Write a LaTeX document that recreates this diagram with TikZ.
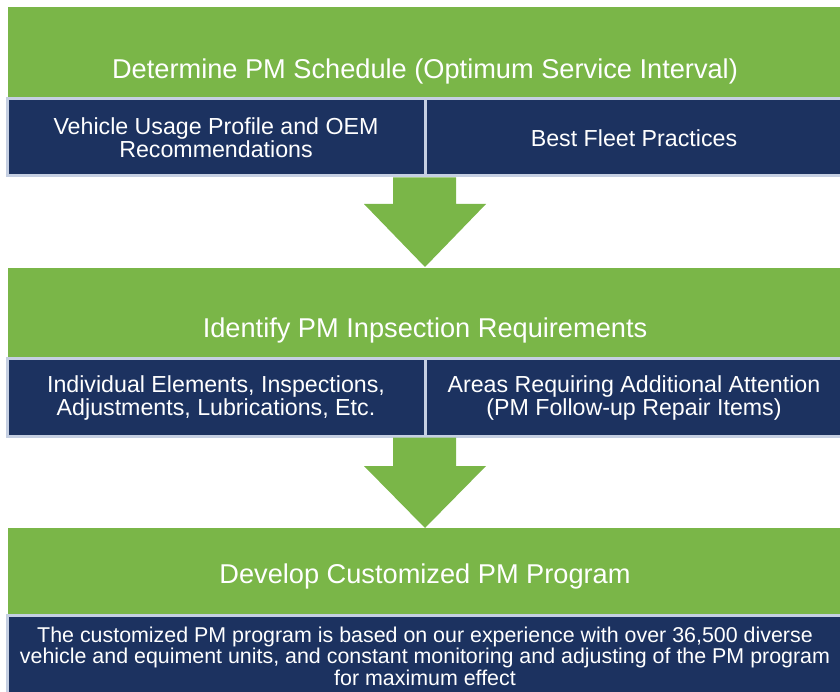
\documentclass[tikz,border=0pt]{standalone}
\usepackage{fontspec}
\setmainfont{Liberation Sans}
\definecolor{pmgreen}{HTML}{7AB648}
\definecolor{pmblue}{HTML}{1C3260}
\definecolor{pmedge}{HTML}{C5CFE2}
\tikzset{
  band/.style={fill=pmgreen},
  cell/.style={fill=pmblue, draw=pmedge, line width=3pt},
  blockarrow/.style={fill=pmgreen},
  title/.style={text=white, font=\fontsize{27.2}{30}\selectfont, align=center},
  celltext/.style={text=white, font=\fontsize{23.2}{23}\selectfont, align=center},
  smalltext/.style={text=white, font=\fontsize{21.4}{21.5}\selectfont, align=center}
}
\begin{document}
\begin{tikzpicture}[x=1pt,y=-1pt]
\useasboundingbox (0,0) rectangle (840,692);
% band 1
\fill[band] (8,7) rectangle (842,98);
\draw[cell] (7.5,98.5) rectangle (425,176);
\draw[cell] (425,98.5) rectangle (844,176);
\node[title] (t1) at (425,71) {Determine PM Schedule (Optimum Service Interval)};
\node[celltext] (c1a) at (216,138) {Vehicle Usage Profile and OEM\\Recommendations};
\node[celltext] (c1b) at (634,138) {Best Fleet Practices};
% arrow 1
\fill[blockarrow] (393,177.5) -- (456,177.5) -- (456,204) -- (486,204) -- (425,267) -- (364,204) -- (393,204) -- cycle;
% band 2
\fill[band] (8,268) rectangle (842,357);
\draw[cell] (7.5,358.5) rectangle (425,436);
\draw[cell] (425,358.5) rectangle (844,436);
\node[title] (t2) at (425,330) {Identify PM Inpsection Requirements};
\node[celltext] (c2a) at (216,398) {Individual Elements, Inspections,\\Adjustments, Lubrications, Etc.};
\node[celltext] (c2b) at (634,398) {Areas Requiring Additional Attention\\(PM Follow-up Repair Items)};
% arrow 2
\fill[blockarrow] (393,437.5) -- (456,437.5) -- (456,466) -- (486,466) -- (425,528) -- (364,466) -- (393,466) -- cycle;
% band 3
\fill[band] (8,528) rectangle (842,614);
\draw[cell] (7.5,615.5) rectangle (844,700);
\node[title] (t3) at (425,576) {Develop Customized PM Program};
\node[smalltext] (c3) at (425,656) {The customized PM program is based on our experience with over 36,500 diverse\\vehicle and equiment units, and constant monitoring and adjusting of the PM program\\for maximum effect};
\end{tikzpicture}
\end{document}
